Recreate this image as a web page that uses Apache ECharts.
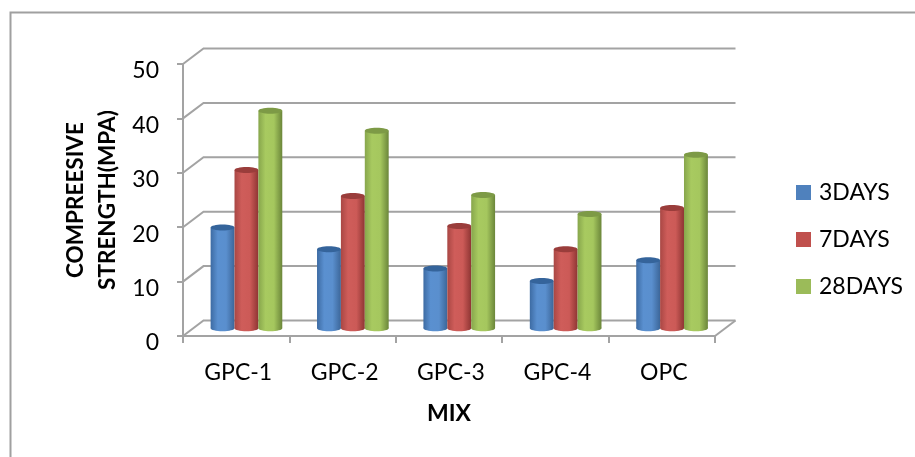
<!DOCTYPE html>
<html><head><meta charset="utf-8">
<style>html,body{margin:0;padding:0;background:#fff}#c{width:915px;height:457px}</style>
<script src="https://cdn.jsdelivr.net/npm/echarts@6/dist/echarts.min.js"></script>
</head><body><div id="c"></div>
<script>
const categories = ['GPC-1','GPC-2','GPC-3','GPC-4','OPC'];
const days3 = [18.5,14.5,11.0,8.7,12.5];
const days7 = [29.1,24.3,18.8,14.5,22.1];
const days28 = [40.0,36.3,24.5,21.0,31.9];
const yTicks = [0,10,20,30,40,50];
const seriesNames = ['3DAYS','7DAYS','28DAYS'];
const FONT = 'Lato';
const DEPTH_X = 20.5, DEPTH_Y = 15.5;
const styles = [
 {base:'#4f81bd', stops:['#3d6ba3','#5a90d0','#5a8fce','#3c6699'], top:'#35649b'},
 {base:'#c0504d', stops:['#a94744','#cf5d5a','#cc5a57','#8e3533'], top:'#9a3d3b'},
 {base:'#9bbb59', stops:['#87a64c','#a8ca60','#a5c75e','#6b863a'], top:'#7d9a46'}
];
const chart = echarts.init(document.getElementById('c'), null, {renderer:'canvas'});
const GREY = '#a3a3a3';

function wallItem(params, api){
  const v = api.value(0);
  const cs = params.coordSys;
  const y = api.coord([0, v])[1];
  const xl = cs.x, xr = cs.x + cs.width;
  const children = [{type:'polyline', shape:{points:[[xl,y],[xl+DEPTH_X,y-DEPTH_Y],[xr+DEPTH_X,y-DEPTH_Y]]},
    style:{fill:null, stroke:GREY, lineWidth:2}}];
  if (v === 0) children.push({type:'line', shape:{x1:xr,y1:y,x2:xr+DEPTH_X,y2:y-DEPTH_Y},
    style:{stroke:GREY, lineWidth:2}});
  return {type:'group', children};
}
function cylinder(si){
  return function(params, api){
    const band = api.size([1,0])[0];
    const w = band*0.2245;
    const p = api.coord([api.value(0), api.value(1)]);
    const b = api.coord([api.value(0), 0]);
    const cx = p[0] + DEPTH_X/2 + (si-1)*w;
    const topY = p[1] - DEPTH_Y/2, baseY = b[1] - DEPTH_Y/2;
    const rx = w/2, ry = 3, st = styles[si];
    const grad = new echarts.graphic.LinearGradient(0,0,1,0,[
      {offset:0,color:st.stops[0]},{offset:0.3,color:st.stops[1]},
      {offset:0.65,color:st.stops[2]},{offset:1,color:st.stops[3]}]);
    return {type:'group', children:[
      {type:'ellipse', shape:{cx:cx,cy:baseY,rx:rx,ry:ry}, style:{fill:grad}},
      {type:'rect', shape:{x:cx-rx,y:topY,width:w,height:baseY-topY}, style:{fill:grad}},
      {type:'ellipse', shape:{cx:cx,cy:topY,rx:rx,ry:ry}, style:{fill:st.top}}
    ]};
  };
}
const lists = [days3,days7,days28];
const series = [{
  type:'custom', name:'wall', coordinateSystem:'cartesian2d', silent:true, z:1,
  renderItem:wallItem, encode:{y:0}, data:yTicks.map(v=>[v]), clip:false
}].concat(lists.map((vals,i)=>({
  type:'custom', name:seriesNames[i], coordinateSystem:'cartesian2d', z:2+i, clip:false,
  itemStyle:{color:styles[i].base},
  renderItem:cylinder(i), encode:{x:0,y:1},
  data:vals.map((v,k)=>[k,v])
})));
chart.setOption({
  animation:false,
  backgroundColor:'#fff',
  textStyle:{fontFamily:FONT},
  graphic:[{type:'polyline', silent:true, shape:{points:[[10.5,457],[10.5,12.5],[915,12.5]]},
    style:{fill:null, stroke:'#a0a0a0', lineWidth:2}}],
  grid:{left:183, right:200, top:64, bottom:121, containLabel:false},
  legend:{data:seriesNames, orient:'vertical', left:796, top:181, padding:0, itemWidth:15, itemHeight:15, itemGap:24,
    icon:'rect', textStyle:{fontFamily:FONT, fontSize:23, color:'#000', padding:[0,0,0,3]}},
  xAxis:{type:'category', data:categories, boundaryGap:true,
    axisLine:{lineStyle:{color:GREY,width:2}}, axisTick:{show:true,alignWithLabel:false,length:7,lineStyle:{color:GREY,width:2}},
    axisLabel:{color:'#000',fontSize:23,fontFamily:FONT,margin:25,padding:[0,0,0,4]},
    name:'MIX', nameLocation:'middle', nameGap:66, nameMoveOverlap:false,
    nameTextStyle:{color:'#000',fontWeight:'bold',fontSize:23,fontFamily:FONT}},
  yAxis:{type:'value', min:0, max:50, interval:10,
    axisLine:{show:true,lineStyle:{color:GREY,width:2}}, axisTick:{show:true,length:6,lineStyle:{color:GREY,width:2}},
    splitLine:{show:false},
    axisLabel:{color:'#000',fontSize:23,fontFamily:FONT,margin:24,verticalAlign:'top',lineHeight:14},
    name:'COMPREESIVE\nSTRENGTH(MPA)', nameLocation:'middle', nameGap:59, nameRotate:90, nameMoveOverlap:false,
    nameTextStyle:{color:'#000',fontWeight:'bold',fontSize:22.5,fontFamily:FONT,lineHeight:32}},
  series:series
});
</script></body></html>
